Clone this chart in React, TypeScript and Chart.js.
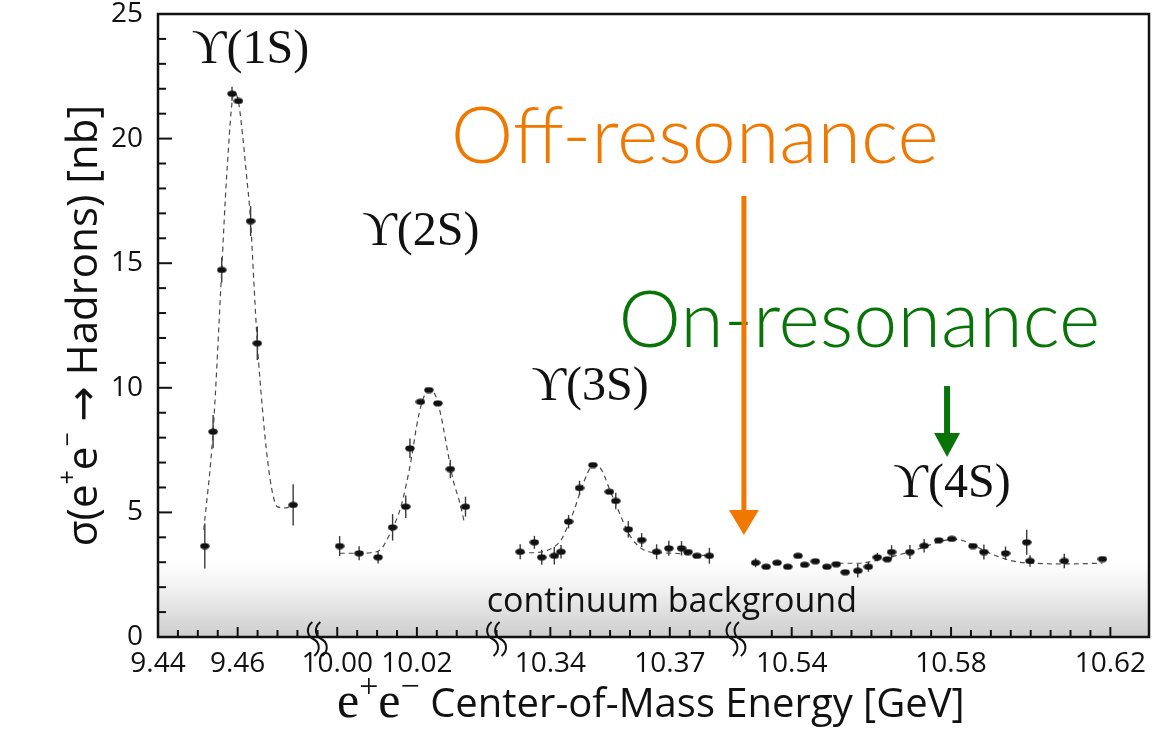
import React, { useEffect, useRef } from 'react';
import { Chart, registerables } from 'chart.js';

Chart.register(...registerables);

// ---------- axis segments (GeV) ----------
const seg1Range = [9.44, 9.48];
const seg2Range = [9.995, 10.04];
const seg3Range = [10.3265, 10.3866];
const seg4Range = [10.526, 10.6297];
const seg1TickLabels = [9.44, 9.46];
const seg2TickLabels = [10.0, 10.02];
const seg3TickLabels = [10.34, 10.37];
const seg4TickLabels = [10.54, 10.58, 10.62];
const yTickLabels = [0, 5, 10, 15, 20, 25];
const continuumLevel = 3.0;

// ---------- Upsilon(1S) scan ----------
const ups1Energy = [9.45175, 9.45383, 9.456, 9.45858, 9.46018, 9.46325, 9.46493, 9.47393];
const ups1Sigma = [3.65, 8.24, 14.73, 21.8, 21.51, 16.69, 11.79, 5.3];
const ups1Error = [0.9, 0.67, 0.5, 0.28, 0.1, 0.6, 0.67, 0.83];
const fit1Energy = [9.4515, 9.45383, 9.456, 9.45718, 9.45913, 9.46018, 9.46093, 9.46218, 9.46325, 9.464, 9.46493, 9.46625, 9.4675, 9.46875, 9.47, 9.47225, 9.4735];
const fit1Sigma = [4.3, 8.24, 14.73, 18.34, 21.85, 21.5, 20.6, 18.6, 16.7, 14.45, 11.8, 9.1, 7.1, 5.78, 5.22, 5.18, 5.3];

// ---------- Upsilon(2S) scan ----------
const ups2Energy = [10.0006, 10.0055, 10.01025, 10.0139, 10.0172, 10.01825, 10.0209, 10.023, 10.02525, 10.0284, 10.0322];
const ups2Sigma = [3.65, 3.36, 3.2, 4.4, 5.23, 7.57, 9.44, 9.91, 9.38, 6.74, 5.23];
const ups2Error = [0.4, 0.28, 0.25, 0.53, 0.45, 0.4, 0, 0, 0, 0.37, 0.4];
const fit2Energy = [10.0006, 10.0049, 10.00825, 10.0112, 10.0124, 10.0141, 10.01575, 10.0174, 10.0187, 10.0199, 10.0212, 10.0228, 10.0241, 10.0253, 10.0266, 10.0278, 10.0291, 10.0308, 10.032];
const fit2Sigma = [3.36, 3.36, 3.38, 3.56, 3.89, 4.43, 5.1, 6.17, 7.24, 8.44, 9.38, 9.88, 9.84, 9.38, 8.44, 7.37, 6.3, 5.37, 4.53];

// ---------- Upsilon(3S) scan ----------
const ups3Energy = [10.33243, 10.336, 10.33783, 10.341, 10.34268, 10.34458, 10.34733, 10.35068, 10.35483, 10.35643, 10.35958, 10.36293, 10.36668, 10.36975, 10.37293, 10.37458, 10.37683, 10.37993];
const ups3Sigma = [3.42, 3.8, 3.2, 3.26, 3.42, 4.63, 5.98, 6.9, 5.83, 5.46, 4.32, 3.89, 3.42, 3.56, 3.56, 3.41, 3.26, 3.26];
const ups3Error = [0.3, 0.26, 0.3, 0.35, 0.27, 0.27, 0.29, 0, 0, 0.33, 0.33, 0.28, 0.3, 0.3, 0.29, 0, 0, 0.32];
const fit3Energy = [10.33243, 10.33558, 10.33893, 10.341, 10.34268, 10.34433, 10.346, 10.34768, 10.34933, 10.35058, 10.35225, 10.3535, 10.35475, 10.35643, 10.35808, 10.35975, 10.36143, 10.36308, 10.36475, 10.36725, 10.37143, 10.37558, 10.37993];
const fit3Sigma = [3.38, 3.38, 3.46, 3.62, 3.89, 4.43, 5.1, 5.9, 6.57, 6.9, 6.83, 6.5, 5.97, 5.34, 4.7, 4.13, 3.76, 3.53, 3.42, 3.38, 3.36, 3.3, 3.26];

// ---------- Upsilon(4S) scan ----------
const ups4Energy = [10.53093, 10.53358, 10.53633, 10.539, 10.54158, 10.54325, 10.54593, 10.54883, 10.55118, 10.55343, 10.55658, 10.55925, 10.5615, 10.564, 10.56508, 10.56968, 10.57325, 10.57693, 10.58018, 10.5855, 10.58825, 10.59368, 10.599, 10.59983, 10.60843, 10.618];
const ups4Sigma = [2.98, 2.82, 2.98, 2.82, 3.26, 2.9, 3.04, 2.82, 2.92, 2.6, 2.66, 2.82, 3.2, 3.12, 3.41, 3.41, 3.66, 3.88, 3.94, 3.65, 3.41, 3.36, 3.8, 3.05, 3.05, 3.13];
const ups4Error = [0.18, 0, 0, 0, 0, 0, 0, 0, 0, 0, 0.27, 0.2, 0.17, 0, 0.27, 0.28, 0.27, 0, 0, 0, 0.3, 0.27, 0.5, 0.23, 0.29, 0];
const fit4Energy = [10.55175, 10.55675, 10.55925, 10.56175, 10.56425, 10.56675, 10.56968, 10.57343, 10.57675, 10.58008, 10.58258, 10.58508, 10.58843, 10.59093, 10.59383, 10.59675, 10.60093, 10.60758, 10.618];
const fit4Sigma = [2.96, 2.96, 3.01, 3.09, 3.18, 3.29, 3.42, 3.62, 3.81, 3.92, 3.89, 3.72, 3.46, 3.28, 3.12, 3.01, 2.96, 2.93, 2.96];

// ---------- annotation texts ----------
const resonanceNames = ['\u03D2(1S)', '\u03D2(2S)', '\u03D2(3S)', '\u03D2(4S)'];
const resonanceAxes = ['x1', 'x2', 'x3', 'x4'];
const resonanceLabelEnergy = [9.4485, 10.00625, 10.33525, 10.5655];
const resonanceLabelSigma = [23.03, 15.73, 9.51, 5.62];

const SANS = "'Open Sans', 'DejaVu Sans', sans-serif";
const SERIF = "'Liberation Serif', 'DejaVu Serif', serif";
const ORANGE = '#f07800';
const GREEN = '#087408';

const pairs = (xs: number[], ys: number[]) => xs.map((x, i) => ({ x, y: ys[i] }));
const isLabel = (labels: number[], v: number) => labels.some((l) => Math.abs(l - v) < 1e-6);
const onStep = (v: number) => Math.abs(v / 0.005 - Math.round(v / 0.005)) < 1e-3;

function makeXAxis(range: number[], labels: number[]) {
  return {
    type: 'linear',
    position: 'bottom',
    stack: 'energy',
    stackWeight: range[1] - range[0],
    min: range[0],
    max: range[1],
    grid: { display: false, drawTicks: false },
    border: { display: false },
    ticks: {
      stepSize: 0.005,
      autoSkip: false,
      maxRotation: 0,
      minRotation: 0,
      padding: 10,
      color: '#111',
      font: { family: SANS, size: 28 },
      callback: (v: number) => (isLabel(labels, v) ? Number(v).toFixed(2) : ''),
    },
    afterFit: (s: any) => {
      s.height = 92;
      s.paddingLeft = 0;
      s.paddingRight = 0;
    },
  };
}

function arrow(ctx: any, x: number, y0: number, yBase: number, yTip: number, half: number, lw: number, color: string) {
  ctx.save();
  ctx.strokeStyle = color;
  ctx.fillStyle = color;
  ctx.lineWidth = lw;
  ctx.beginPath();
  ctx.moveTo(x, y0);
  ctx.lineTo(x, yBase + 1);
  ctx.stroke();
  ctx.beginPath();
  ctx.moveTo(x - half, yBase);
  ctx.lineTo(x + half, yBase);
  ctx.lineTo(x, yTip);
  ctx.closePath();
  ctx.fill();
  ctx.restore();
}

function drawRuns(ctx: any, runs: any[], x: number, y: number) {
  let cx = x;
  for (const r of runs) {
    ctx.font = r.font;
    ctx.fillText(r.text, cx, y - (r.raise || 0));
    cx += ctx.measureText(r.text).width + (r.gap || 0);
  }
  return cx;
}
function runsWidth(ctx: any, runs: any[]) {
  let w = 0;
  for (const r of runs) {
    ctx.font = r.font;
    w += ctx.measureText(r.text).width + (r.gap || 0);
  }
  return w;
}

const physicsPlugin = {
  id: 'physicsDecor',
  beforeDatasetsDraw(chart: any) {
    const { ctx, chartArea: a, scales } = chart;
    const y = scales.y;
    const top = y.getPixelForValue(continuumLevel);
    const g = ctx.createLinearGradient(0, top, 0, a.bottom);
    g.addColorStop(0, 'rgba(255,255,255,1)');
    g.addColorStop(0.35, '#f1f1f1');
    g.addColorStop(1, '#cdcdcd');
    ctx.save();
    ctx.fillStyle = g;
    ctx.fillRect(a.left, top, a.right - a.left, a.bottom - top);
    // error bars
    ctx.strokeStyle = '#3a3a3a';
    ctx.lineWidth = 1.4;
    chart.data.datasets.forEach((ds: any, di: number) => {
      if (!ds.errorBars) return;
      const meta = chart.getDatasetMeta(di);
      meta.data.forEach((pt: any, i: number) => {
        const e = ds.errorBars[i];
        if (!e) return;
        const v = ds.data[i].y;
        ctx.beginPath();
        ctx.moveTo(pt.x, y.getPixelForValue(v + e));
        ctx.lineTo(pt.x, y.getPixelForValue(v - e));
        ctx.stroke();
      });
    });
    ctx.restore();
  },
  afterDatasetsDraw(chart: any) {
    const { ctx, chartArea: a, scales } = chart;
    const y = scales.y;
    ctx.save();
    // frame
    ctx.strokeStyle = '#111';
    ctx.lineWidth = 2.5;
    ctx.strokeRect(a.left, a.top, a.right - a.left, a.bottom - a.top);
    // y ticks (inward)
    ctx.lineWidth = 2;
    y.ticks.forEach((t: any) => {
      const py = y.getPixelForValue(t.value);
      const len = t.value % 5 === 0 ? 14 : 8;
      ctx.beginPath();
      ctx.moveTo(a.left, py);
      ctx.lineTo(a.left + len, py);
      ctx.stroke();
    });
    // x ticks (inward)
    const segs = [
      [scales.x1, seg1TickLabels],
      [scales.x2, seg2TickLabels],
      [scales.x3, seg3TickLabels],
      [scales.x4, seg4TickLabels],
    ];
    segs.forEach(([sc, labels]: any) => {
      sc.ticks.forEach((t: any) => {
        if (!onStep(t.value)) return;
        const px = sc.getPixelForValue(t.value);
        if (px < a.left + 2 || px > a.right - 2) return;
        const len = isLabel(labels, t.value) ? 10 : 7;
        ctx.beginPath();
        ctx.moveTo(px, a.bottom);
        ctx.lineTo(px, a.bottom - len);
        ctx.stroke();
      });
    });
    // axis breaks
    ctx.lineWidth = 2;
    [scales.x2, scales.x3, scales.x4].forEach((sc: any) => {
      const bx = sc.left;
      const by = a.bottom + 2;
      [-4, 4].forEach((dx) => {
        const x = bx + dx;
        ctx.beginPath();
        ctx.moveTo(x - 1, by - 17);
        ctx.bezierCurveTo(x - 8, by - 11, x - 6, by - 3, x, by);
        ctx.bezierCurveTo(x + 6, by + 3, x + 8, by + 11, x + 1, by + 17);
        ctx.stroke();
      });
    });
    // resonance labels
    ctx.fillStyle = '#111';
    ctx.textAlign = 'left';
    ctx.textBaseline = 'alphabetic';
    ctx.font = `48px ${SERIF}`;
    resonanceNames.forEach((name, i) => {
      const sc = scales[resonanceAxes[i]];
      ctx.fillText(name, sc.getPixelForValue(resonanceLabelEnergy[i]), y.getPixelForValue(resonanceLabelSigma[i]));
    });
    // continuum label
    ctx.textAlign = 'center';
    ctx.font = `34px ${SANS}`;
    ctx.fillText('continuum background', scales.x3.getPixelForValue(10.3705), y.getPixelForValue(1.0));
    // off / on resonance
    ctx.font = `300 79px Lato, ${SANS}`;
    ctx.fillStyle = ORANGE;
    ctx.fillText('Off-resonance', scales.x3.getPixelForValue(10.37625), y.getPixelForValue(19.02));
    ctx.fillStyle = GREEN;
    ctx.fillText('On-resonance', scales.x4.getPixelForValue(10.557), y.getPixelForValue(11.65));
    const ox = scales.x4.getPixelForValue(10.528);
    arrow(ctx, ox, y.getPixelForValue(17.7), y.getPixelForValue(5.1), y.getPixelForValue(4.09), 15, 5, ORANGE);
    const gx = scales.x4.getPixelForValue(10.579);
    arrow(ctx, gx, y.getPixelForValue(10.07), y.getPixelForValue(8.19), y.getPixelForValue(7.22), 13, 6, GREEN);
    ctx.restore();
  },
  afterDraw(chart: any) {
    const { ctx, chartArea: a } = chart;
    ctx.save();
    ctx.fillStyle = '#111';
    ctx.textAlign = 'left';
    ctx.textBaseline = 'alphabetic';
    // x title
    const xRuns = [
      { text: 'e', font: `50px ${SERIF}` },
      { text: '+', font: `34px ${SERIF}`, raise: 20 },
      { text: 'e', font: `50px ${SERIF}` },
      { text: '\u2212', font: `34px ${SERIF}`, raise: 20 },
      { text: ' Center-of-Mass Energy [GeV]', font: `40px ${SANS}` },
    ];
    drawRuns(ctx, xRuns, 337, 717);
    // y title
    const yRuns = [
      { text: '\u03C3(e', font: `42px ${SANS}` },
      { text: '+', font: `25px ${SANS}`, raise: 21 },
      { text: 'e', font: `42px ${SANS}` },
      { text: '\u2212', font: `25px ${SANS}`, raise: 21 },
      { text: ' \u2192 Hadrons) [nb]', font: `42px ${SANS}` },
    ];
    const w = runsWidth(ctx, yRuns);
    ctx.translate(97, (a.top + a.bottom) / 2);
    ctx.rotate(-Math.PI / 2);
    drawRuns(ctx, yRuns, -w / 2, 0);
    ctx.restore();
  },
};

export default function App() {
  const ref = useRef<HTMLCanvasElement | null>(null);
  useEffect(() => {
    if (!ref.current) return;
    const dot = document.createElement('canvas');
    dot.width = 10;
    dot.height = 7;
    const dc = dot.getContext('2d') as CanvasRenderingContext2D;
    dc.fillStyle = '#111';
    dc.beginPath();
    dc.ellipse(5, 3.5, 4.7, 3.1, 0, 0, Math.PI * 2);
    dc.fill();

    const pointDs = (id: string, e: number[], s: number[], err: number[]) => ({
      type: 'scatter',
      xAxisID: id,
      yAxisID: 'y',
      data: pairs(e, s),
      errorBars: err,
      pointStyle: dot,
      pointRadius: 4,
      showLine: false,
    });
    const fitDs = (id: string, e: number[], s: number[]) => ({
      type: 'scatter',
      xAxisID: id,
      yAxisID: 'y',
      data: pairs(e, s),
      showLine: true,
      pointRadius: 0,
      borderColor: '#4a4a4a',
      borderWidth: 1.2,
      borderDash: [5, 4],
      cubicInterpolationMode: 'monotone',
      fill: false,
    });

    const chart = new Chart(ref.current, {
      type: 'scatter',
      data: {
        datasets: [
          pointDs('x1', ups1Energy, ups1Sigma, ups1Error),
          pointDs('x2', ups2Energy, ups2Sigma, ups2Error),
          pointDs('x3', ups3Energy, ups3Sigma, ups3Error),
          pointDs('x4', ups4Energy, ups4Sigma, ups4Error),
          fitDs('x1', fit1Energy, fit1Sigma),
          fitDs('x2', fit2Energy, fit2Sigma),
          fitDs('x3', fit3Energy, fit3Sigma),
          fitDs('x4', fit4Energy, fit4Sigma),
        ] as any,
      },
      options: {
        animation: false,
        responsive: true,
        maintainAspectRatio: false,
        layout: { padding: { top: 14, right: 2, left: 0, bottom: 0 } },
        plugins: { legend: { display: false }, tooltip: { enabled: false } },
        scales: {
          x1: makeXAxis(seg1Range, seg1TickLabels),
          x2: makeXAxis(seg2Range, seg2TickLabels),
          x3: makeXAxis(seg3Range, seg3TickLabels),
          x4: makeXAxis(seg4Range, seg4TickLabels),
          y: {
            type: 'linear',
            position: 'left',
            min: 0,
            max: 25,
            grid: { display: false, drawTicks: false },
            border: { display: false },
            ticks: {
              stepSize: 1,
              autoSkip: false,
              padding: 15,
              color: '#111',
              font: { family: SANS, size: 28 },
              callback: (v: number) => (yTickLabels.includes(v) ? String(v) : ''),
            },
            afterFit: (s: any) => {
              s.width = 158;
              s.paddingTop = 0;
              s.paddingBottom = 0;
            },
          },
        } as any,
      },
      plugins: [physicsPlugin as any],
    });
    return () => chart.destroy();
  }, []);

  return (
    <div style={{ position: 'absolute', left: 0, top: 0, width: 1154, height: 729, background: '#fff' }}>
      <canvas ref={ref} />
    </div>
  );
}
